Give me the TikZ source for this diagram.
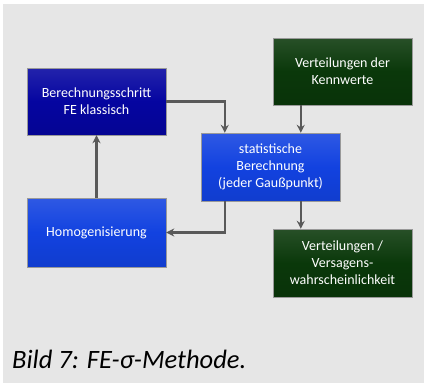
\documentclass[tikz,border=0pt]{standalone}
\usepackage{fontspec}
\setmainfont{Carlito}
\usetikzlibrary{arrows.meta,calc,shadows}
\definecolor{bggray}{HTML}{E6E6E6}
\definecolor{darkblue}{HTML}{0505A0}
\definecolor{brightblue}{HTML}{1242E0}
\definecolor{darkgreen}{HTML}{0A380A}
\definecolor{arrgray}{HTML}{595959}
\tikzset{
  box/.style={rectangle, minimum width=139pt, minimum height=67pt, inner sep=2pt,
    align=center, text=white, font=\fontsize{14}{17}\selectfont,
    draw=black!40, line width=0.4pt,
    drop shadow={opacity=0.35, shadow xshift=1pt, shadow yshift=-1.2pt}},
  bluedark/.style={box, top color=darkblue!88!white, bottom color=darkblue!92!black, middle color=darkblue},
  blueb/.style={box, top color=brightblue!88!white, bottom color=brightblue!92!black, middle color=brightblue},
  greenb/.style={box, top color=darkgreen!88!white, bottom color=darkgreen!90!black, middle color=darkgreen},
  conn/.style={draw=arrgray, line width=2.6pt, -{Stealth[length=8pt,width=8pt]}},
}
\begin{document}
\begin{tikzpicture}[x=1pt,y=-1pt]
\useasboundingbox (0,0) rectangle (424,383);
\fill[white] (0,0) rectangle (424,383);
\fill[bggray] (3,4) rectangle (424,383);

\node[bluedark] (berech) at (96.5,101.5) {Berechnungsschritt\\FE klassisch};
\node[greenb] (kenn) at (342.5,71.5) {Verteilungen der\\Kennwerte};
\node[blueb, minimum height=68pt] (stat) at (270.5,167) {statistische\\Berechnung\\(jeder Gaußpunkt)};
\node[blueb, minimum height=69pt] (homog) at (96.5,232.5) {Homogenisierung};
\node[greenb, minimum height=68pt] (vert) at (342.5,263) {Verteilungen /\\Versagens-\\wahrscheinlichkeit};

\coordinate (s1) at ($(stat.north west)+(24,0)$);
\coordinate (k1) at ($(kenn.south west)+(28,0)$);
\coordinate (s2) at ($(stat.south west)+(24,0)$);
\coordinate (s3) at ($(stat.south west)+(100,0)$);

\draw[conn] (berech.east) -| (s1);
\draw[conn] (k1) -- (k1 |- stat.north);
\draw[conn] (homog.north) -- (berech.south);
\draw[conn] (s2) |- (homog.east);
\draw[conn] (s3) -- (s3 |- vert.north);

\node[anchor=base west, inner sep=0pt, font=\fontsize{26.5}{30}\selectfont\itshape] (cap) at (12,368) {Bild 7: FE-σ-Methode.};
\end{tikzpicture}
\end{document}
